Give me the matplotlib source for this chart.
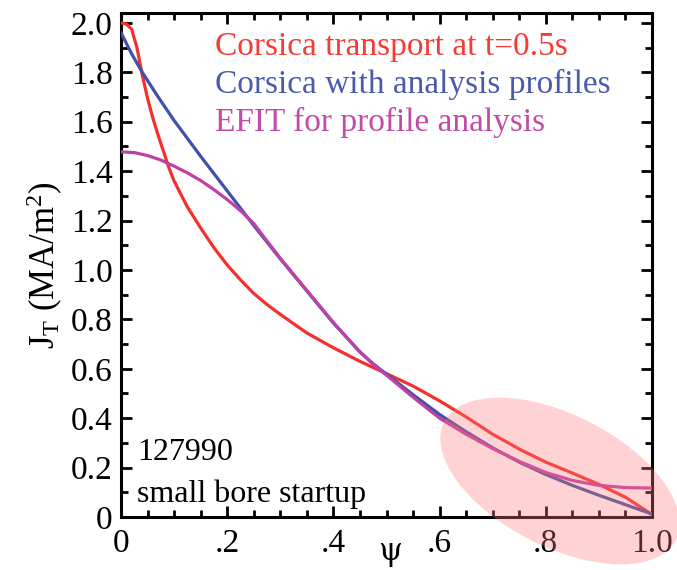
import matplotlib
matplotlib.use("Agg")
import matplotlib.pyplot as plt
from matplotlib.patches import Ellipse
from matplotlib.ticker import MultipleLocator, FixedLocator, FixedFormatter

plt.rcParams['font.family'] = ['Liberation Serif', 'DejaVu Serif']
plt.rcParams['mathtext.fontset'] = 'custom'
plt.rcParams['mathtext.rm'] = 'Liberation Serif'
plt.rcParams['mathtext.it'] = 'Liberation Serif:italic'

# --- data ---
red_x = [0, 0.01, 0.02, 0.03, 0.04, 0.05, 0.06, 0.07, 0.08, 0.09, 0.1, 0.125, 0.15, 0.175,
         0.2, 0.225, 0.25, 0.275, 0.3, 0.35, 0.4, 0.45, 0.5, 0.55, 0.6, 0.65, 0.7, 0.75,
         0.8, 0.85, 0.9, 0.95, 1.0]
red_y = [2.0, 1.995, 1.975, 1.90, 1.79, 1.695, 1.615, 1.545, 1.48, 1.415, 1.36, 1.255, 1.17,
         1.09, 1.02, 0.96, 0.905, 0.86, 0.82, 0.745, 0.685, 0.63, 0.58, 0.53, 0.47, 0.405,
         0.335, 0.275, 0.222, 0.178, 0.132, 0.08, 0.01]

blue_x = [0, 0.02, 0.04, 0.07, 0.1, 0.15, 0.2, 0.25, 0.3, 0.35, 0.4, 0.45, 0.475, 0.5,
          0.55, 0.6, 0.65, 0.7, 0.75, 0.8, 0.85, 0.9, 0.95, 1.0]
blue_y = [1.96, 1.875, 1.80, 1.70, 1.605, 1.46, 1.32, 1.18, 1.045, 0.915, 0.785, 0.668,
          0.62, 0.578, 0.495, 0.415, 0.345, 0.28, 0.222, 0.172, 0.128, 0.088, 0.05, 0.012]

mag_x = [0, 0.025, 0.05, 0.075, 0.1, 0.125, 0.15, 0.175, 0.2, 0.225, 0.25, 0.275, 0.3,
         0.35, 0.4, 0.45, 0.475, 0.5, 0.55, 0.6, 0.65, 0.7, 0.75, 0.8, 0.85, 0.9, 0.95, 1.0]
mag_y = [1.478, 1.475, 1.463, 1.445, 1.42, 1.393, 1.362, 1.325, 1.285, 1.24, 1.188, 1.117,
         1.047, 0.917, 0.787, 0.668, 0.618, 0.574, 0.485, 0.40, 0.335, 0.277, 0.225, 0.18,
         0.148, 0.128, 0.119, 0.117]

labels = ["Corsica transport at t=0.5s", "Corsica with analysis profiles",
          "EFIT for profile analysis"]
colors = ["#f5302c", "#3f51a8", "#c040a6"]
text_colors = ["#f83a34", "#4a5aae", "#c04ca8"]

x_ticks = [0, 0.2, 0.4, 0.6, 0.8, 1.0]
x_ticklabels = ["0", ".2", ".4", ".6", ".8", "1.0"]
y_ticks = [0, 0.2, 0.4, 0.6, 0.8, 1.0, 1.2, 1.4, 1.6, 1.8, 2.0]
y_ticklabels = ["0", "0.2", "0.4", "0.6", "0.8", "1.0", "1.2", "1.4", "1.6", "1.8", "2.0"]

fig = plt.figure(figsize=(6.77, 5.70), dpi=100)
ax = fig.add_axes([121/677, (570-517)/570, (652-121)/677, (517-13)/570])

for xs, ys, c in zip([red_x, blue_x, mag_x], [red_y, blue_y, mag_y], colors):
    ax.plot(xs, ys, color=c, lw=2.3, solid_joinstyle='round', solid_capstyle='round', zorder=3)

ax.set_xlim(0, 1.0)
ax.set_ylim(0, 2.04)

ax.xaxis.set_major_locator(FixedLocator(x_ticks))
ax.xaxis.set_major_formatter(FixedFormatter(x_ticklabels))
ax.xaxis.set_minor_locator(MultipleLocator(0.05))
ax.yaxis.set_major_locator(FixedLocator(y_ticks))
ax.yaxis.set_major_formatter(FixedFormatter(y_ticklabels))
ax.yaxis.set_minor_locator(MultipleLocator(0.1))

ax.tick_params(which='both', direction='in', top=True, right=True, labelsize=24,
               width=2, color='black')
ax.tick_params(which='major', length=8)
ax.tick_params(axis='x', which='major', pad=8)
ax.tick_params(axis='y', which='major', pad=6)
ax.tick_params(which='minor', length=5)
for s in ax.spines.values():
    s.set_linewidth(2.2)

ax.set_xlabel("ψ", fontsize=22, family=['DejaVu Serif'], va='center')
ax.xaxis.set_label_coords(0.507, -0.068)
ax.set_ylabel(r"J$_\mathrm{T}$ (MA/m$^2$)", fontsize=25, labelpad=4)

for i, (lab, tc) in enumerate(zip(labels, text_colors)):
    ax.text(0.177, 0.933 - i * 0.0755, lab, color=tc, fontsize=24,
            transform=ax.transAxes, va='center', ha='left')

ax.text(0.03, 0.127, "127990", fontsize=23, transform=ax.transAxes, va='center', ha='left')
ax.text(0.03, 0.046, "small bore startup", fontsize=23, transform=ax.transAxes,
        va='center', ha='left')

ell = Ellipse((5.60, 5.70 - 4.81), width=2.60, height=1.32, angle=-27,
              transform=fig.dpi_scale_trans, facecolor='#ff7a7a', alpha=0.33,
              edgecolor='none', zorder=5, clip_on=False)
fig.patches.append(ell)

fig.savefig("out.png", dpi=100)
